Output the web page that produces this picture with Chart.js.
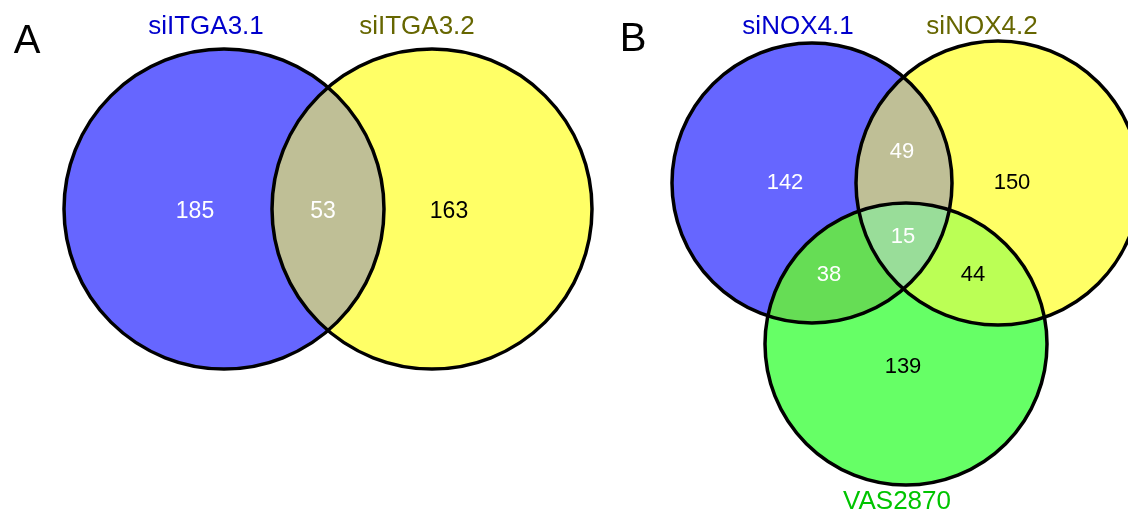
<!DOCTYPE html>
<html>
<head>
<meta charset="utf-8">
<script src="https://cdn.jsdelivr.net/npm/chart.js@4/dist/chart.umd.min.js"></script>
<style>
  html, body { margin: 0; padding: 0; background: #fff; }
  canvas { display: block; }
</style>
</head>
<body>
<canvas id="vennChart" width="1128" height="516"></canvas>
<script>
// set names and region counts (region key = membership mask in set order)
const panels = ['A', 'B'];
const setsA = ['siITGA3.1', 'siITGA3.2'];
const regionsA = ['10', '11', '01'];
const countsA = [185, 53, 163];
const setsB = ['siNOX4.1', 'siNOX4.2', 'VAS2870'];
const regionsB = ['100', '110', '010', '111', '101', '011', '001'];
const countsB = [142, 49, 150, 15, 38, 44, 139];

// layout, in pixel units of the hidden 1128x516 scales
const layout = {
  A: {
    letter: { x: 27, y: 42 },
    circles: [{ x: 224, y: 209, r: 160 }, { x: 432, y: 209, r: 160 }],
    names: [{ x: 206, y: 27 }, { x: 417, y: 27 }],
    counts: { '10': [195, 212], '11': [323, 212], '01': [449, 212] },
    font: 23
  },
  B: {
    letter: { x: 633, y: 40 },
    circles: [{ x: 812, y: 183, r: 140 }, { x: 998, y: 183, r: 142 }, { x: 906, y: 344, r: 141 }],
    names: [{ x: 798, y: 27 }, { x: 982, y: 27 }, { x: 897, y: 502 }],
    counts: { '100': [785, 183], '110': [902, 152], '010': [1012, 183], '111': [903, 237],
              '101': [829, 275], '011': [973, 275], '001': [903, 367] },
    font: 22
  }
};

const setColors = ['rgb(102,102,255)', 'rgb(255,255,102)', 'rgb(102,255,102)'];
const nameColors = ['#0000cc', '#666600', '#00c400'];
const overlapColors = {
  '11': 'rgb(191,191,150)', '110': 'rgb(191,191,150)', '101': 'rgb(102,221,85)',
  '011': 'rgb(187,255,85)', '111': 'rgb(153,221,153)'
};
const darkText = ['01', '010', '011', '001'];
const FONT = '"Liberation Sans", Arial, sans-serif';

const datasets = [];
panels.forEach(p => {
  const sets = p === 'A' ? setsA : setsB;
  sets.forEach((name, i) => {
    const c = layout[p].circles[i];
    datasets.push({
      label: name,
      panel: p,
      data: [{ x: c.x, y: c.y, r: c.r }],
      backgroundColor: setColors[i],
      borderWidth: 0
    });
  });
});

const vennPlugin = {
  id: 'venn',
  afterDatasetsDraw(chart) {
    const ctx = chart.ctx;
    const xs = chart.scales.x, ys = chart.scales.y;
    let di = 0;
    panels.forEach(p => {
      const sets = p === 'A' ? setsA : setsB;
      const regions = p === 'A' ? regionsA : regionsB;
      const counts = p === 'A' ? countsA : countsB;
      const L = layout[p];
      const circles = sets.map((s, i) => {
        const el = chart.getDatasetMeta(di + i).data[0];
        return { x: el.x, y: el.y, r: el.options.radius };
      });
      di += sets.length;

      // overlaps: fill regions with more members last
      const keys = regions.filter(k => k.split('1').length > 2)
        .sort((a, b) => a.split('1').length - b.split('1').length);
      keys.forEach(k => {
        ctx.save();
        k.split('').forEach((bit, i) => {
          if (bit === '1') {
            ctx.beginPath();
            ctx.arc(circles[i].x, circles[i].y, circles[i].r, 0, Math.PI * 2);
            ctx.clip();
          }
        });
        ctx.fillStyle = overlapColors[k];
        ctx.fillRect(0, 0, chart.width, chart.height);
        ctx.restore();
      });

      // outlines
      ctx.save();
      ctx.strokeStyle = '#000';
      ctx.lineWidth = 3.5;
      circles.forEach(c => {
        ctx.beginPath();
        ctx.arc(c.x, c.y, c.r, 0, Math.PI * 2);
        ctx.stroke();
      });
      ctx.restore();

      ctx.save();
      ctx.textAlign = 'center';
      ctx.textBaseline = 'middle';
      // counts
      ctx.font = L.font + 'px ' + FONT;
      regions.forEach((k, i) => {
        const pos = L.counts[k];
        ctx.fillStyle = darkText.includes(k) ? '#000' : '#fff';
        ctx.fillText(String(counts[i]), xs.getPixelForValue(pos[0]), ys.getPixelForValue(pos[1]));
      });
      // set names
      ctx.font = '26px ' + FONT;
      sets.forEach((s, i) => {
        ctx.fillStyle = nameColors[i];
        ctx.fillText(s, xs.getPixelForValue(L.names[i].x), ys.getPixelForValue(L.names[i].y));
      });
      // panel letter
      ctx.font = '40px ' + FONT;
      ctx.fillStyle = '#000';
      ctx.fillText(p, xs.getPixelForValue(L.letter.x), ys.getPixelForValue(L.letter.y));
      ctx.restore();
    });
  }
};

new Chart('vennChart', {
  type: 'bubble',
  data: { datasets: datasets },
  options: {
    responsive: false,
    animation: false,
    events: [],
    layout: { padding: 0, autoPadding: false },
    plugins: { legend: { display: false }, tooltip: { enabled: false } },
    scales: {
      x: { type: 'linear', min: 0, max: 1128, display: false },
      y: { type: 'linear', min: 0, max: 516, reverse: true, display: false }
    }
  },
  plugins: [vennPlugin]
});
</script>
</body>
</html>
